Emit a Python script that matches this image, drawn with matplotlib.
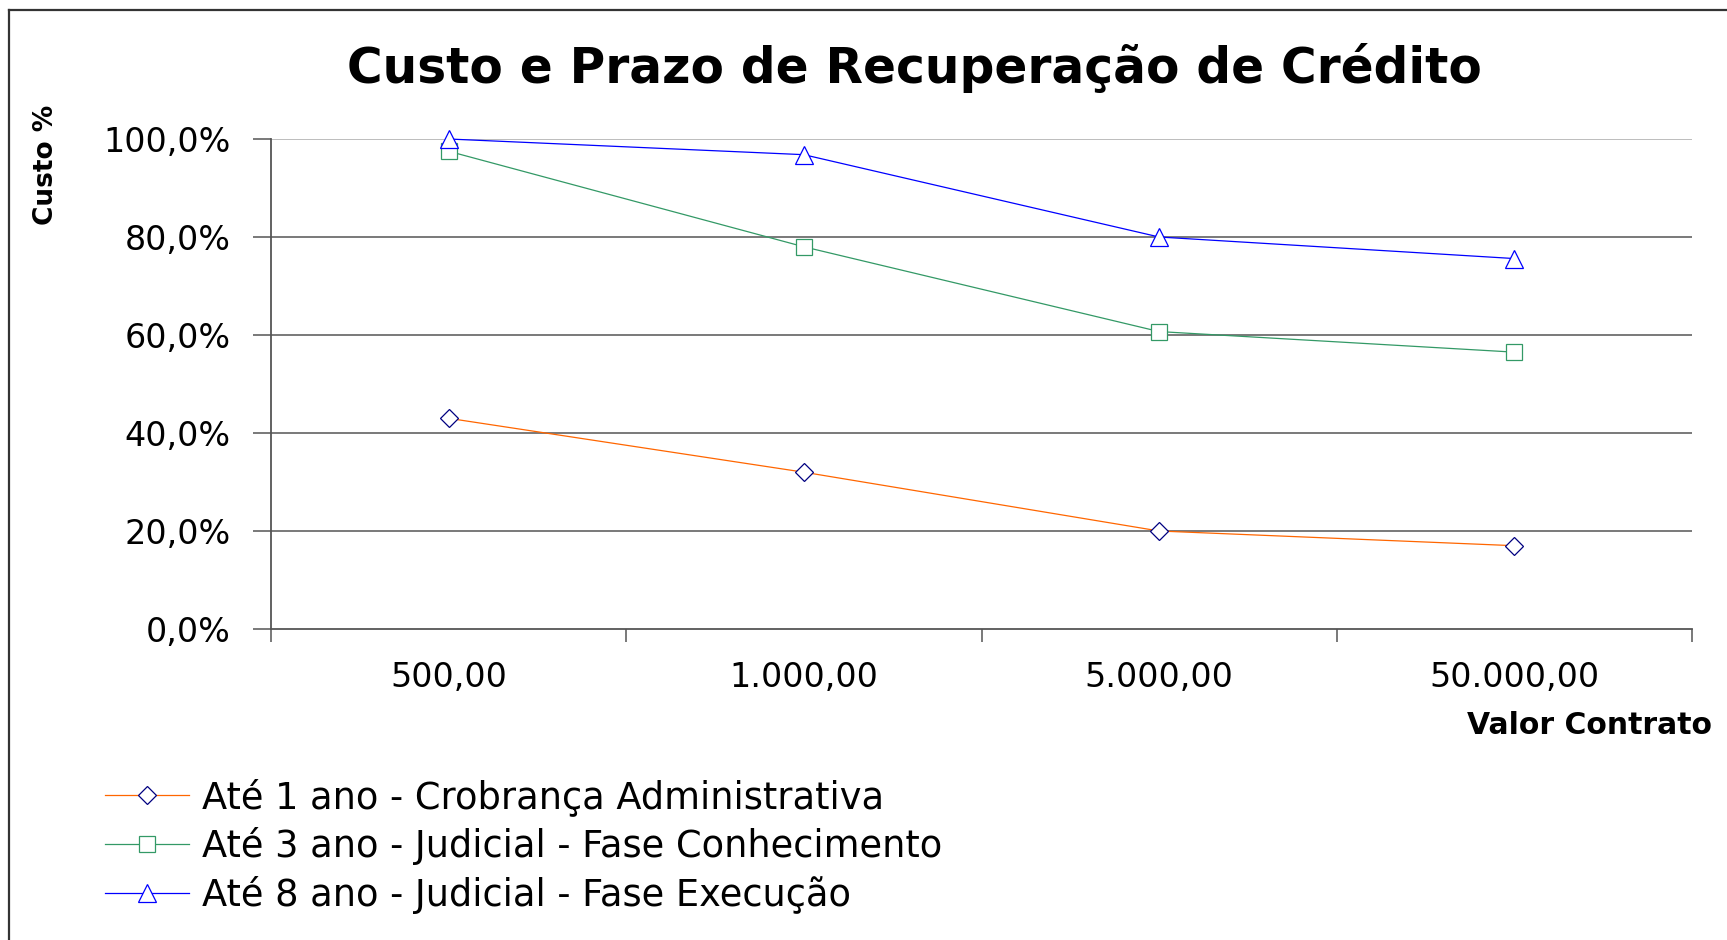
import matplotlib
matplotlib.use("Agg")

import matplotlib.pyplot as plt
from matplotlib.lines import Line2D
from matplotlib.ticker import FuncFormatter

# ---------------------------------------------------------
# Data
# ---------------------------------------------------------
CATEGORIES = ["500,00", "1.000,00", "5.000,00", "50.000,00"]
ADMIN = [43.0, 32.0, 20.0, 17.0]        # Até 1 ano - cobrança administrativa
CONHEC = [97.5, 78.0, 60.7, 56.5]       # Até 3 ano - fase conhecimento
EXEC = [100.0, 96.8, 80.0, 75.6]        # Até 8 ano - fase execução
Y_TICKS = [0, 20, 40, 60, 80, 100]
SERIES_LABELS = [
    "Até 1 ano - Crobrança Administrativa",
    "Até 3 ano - Judicial - Fase Conhecimento",
    "Até 8 ano - Judicial - Fase Execução",
]

C_ORANGE = "#FF6600"
C_NAVY = "#000080"
C_GREEN = "#339966"
C_BLUE = "#0000FF"
C_GRID = "#555555"

W, H = 1727, 940

fig = plt.figure(figsize=(W / 100, H / 100), dpi=100)
fig.patch.set_facecolor("white")
ax = fig.add_axes([271 / W, 311 / H, 1421 / W, 490 / H])

xpos = [i + 0.5 for i in range(len(CATEGORIES))]

l1, = ax.plot(xpos, ADMIN, color=C_ORANGE, lw=0.9, marker="D", ms=9.5,
              mfc="white", mec=C_NAVY, mew=0.9, clip_on=False, zorder=3)
l2, = ax.plot(xpos, CONHEC, color=C_GREEN, lw=0.9, marker="s", ms=11,
              mfc="white", mec=C_GREEN, mew=0.9, clip_on=False, zorder=3)
l3, = ax.plot(xpos, EXEC, color=C_BLUE, lw=0.9, marker="^", ms=13,
              mfc="white", mec=C_BLUE, mew=0.9, clip_on=False, zorder=3)

ax.set_xlim(0, len(CATEGORIES))
ax.set_ylim(0, 100)

# gridlines (top one lighter, like the original)
for y in Y_TICKS[1:-1]:
    ax.axhline(y, color=C_GRID, lw=1.1, zorder=0)
ax.axhline(Y_TICKS[-1], color="#BDBDBD", lw=1.4, zorder=0)

for side in ("top", "right"):
    ax.spines[side].set_visible(False)
for side in ("left", "bottom"):
    ax.spines[side].set_color(C_GRID)
    ax.spines[side].set_linewidth(1.3)

ax.set_yticks(Y_TICKS)
ax.yaxis.set_major_formatter(
    FuncFormatter(lambda v, _: f"{v:.1f}%".replace(".", ",")))
ax.tick_params(axis="y", direction="out", length=13, width=1.1,
               color=C_GRID, pad=16, labelsize=24)

ax.set_xticks(range(len(CATEGORIES) + 1))
ax.set_xticks(xpos, minor=True)
ax.set_xticklabels(CATEGORIES, minor=True)
ax.tick_params(axis="x", which="major", direction="out", length=9, width=1.1,
               color=C_GRID, labelbottom=False)
ax.tick_params(axis="x", which="minor", length=0, pad=23, labelsize=24)

fig.text(914 / W, 1 - 68 / H, "Custo e Prazo de Recuperação de Crédito",
         ha="center", va="center", fontsize=35, fontweight="bold")
fig.text(46 / W, 1 - 165 / H, "Custo %", rotation=90,
         ha="center", va="center", fontsize=19, fontweight="bold")
fig.text(1712 / W, 1 - 725 / H, "Valor Contrato",
         ha="right", va="center", fontsize=21.5, fontweight="bold")

fig.legend([l1, l2, l3], SERIES_LABELS, loc="center left",
           bbox_to_anchor=(105 / W, 1 - 846 / H), frameon=False,
           fontsize=26.5, handlelength=2.28, handletextpad=0.35,
           labelspacing=0.3, borderpad=0, borderaxespad=0, numpoints=1)

# chart-area border (left and top edges visible in the original)
fig.add_artist(Line2D([9 / W, 9 / W], [0, 1 - 10 / H],
                      transform=fig.transFigure, color="#333333", lw=1.6))
fig.add_artist(Line2D([9 / W, 1], [1 - 10 / H, 1 - 10 / H],
                      transform=fig.transFigure, color="#333333", lw=1.6))

fig.savefig("out.png", dpi=100, facecolor="white")
